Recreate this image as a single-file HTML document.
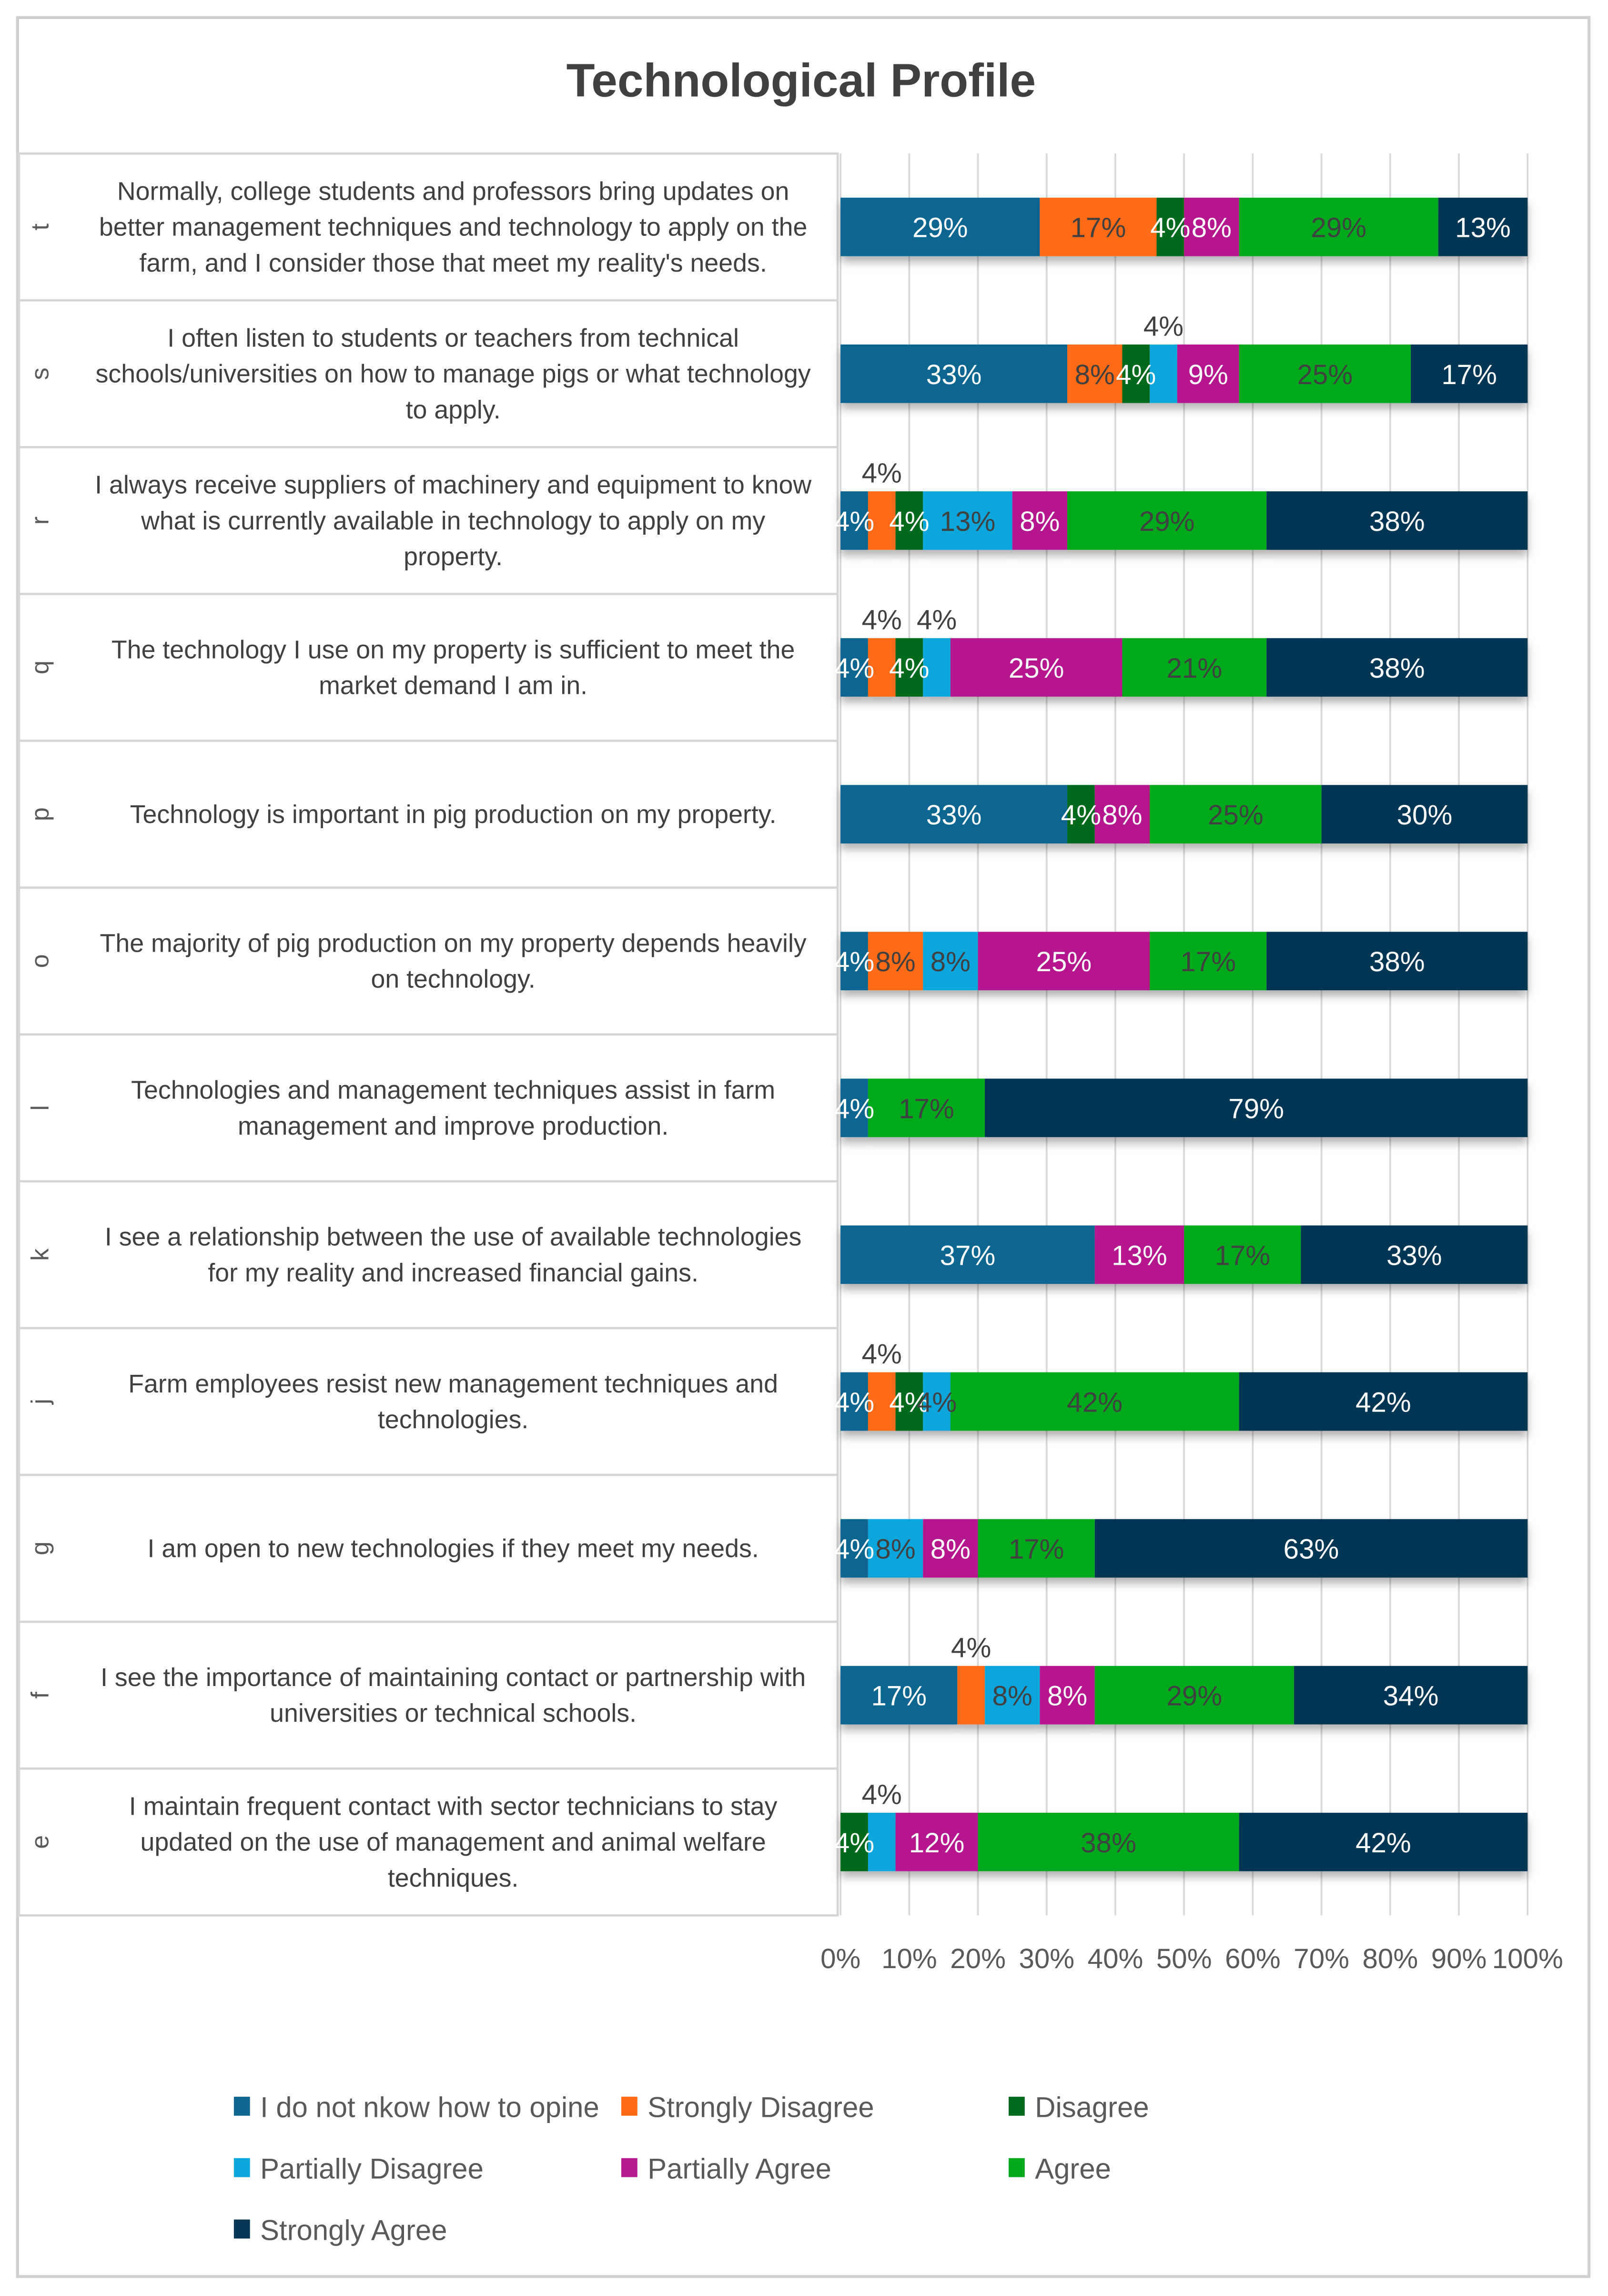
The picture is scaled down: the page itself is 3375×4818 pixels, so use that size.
<!DOCTYPE html>
<html><head><meta charset="utf-8"><style>
html,body{margin:0;padding:0;background:#fff}
svg{display:block}
text{font-family:"Liberation Sans",sans-serif}
</style></head><body>
<svg id="chart" width="3375" height="4818" viewBox="0 0 1100 1570.3" preserveAspectRatio="none" xmlns="http://www.w3.org/2000/svg">
<defs>
<filter id="sh" x="-5%" y="-20%" width="110%" height="160%"><feDropShadow dx="0" dy="4" stdDeviation="3" flood-color="#000" flood-opacity="0.3"/></filter>
</defs>
<rect x="12" y="12" width="1075" height="1545" fill="#fff" stroke="#d0d0d0" stroke-width="2"/>
<text x="548" y="66" text-anchor="middle" font-size="32" font-weight="bold" fill="#404040">Technological Profile</text>
<g id="grid"></g>
<g id="labels"></g>
<g id="bars"></g>
<g id="xaxis"></g>
<g id="legend"></g>
</svg>
<script>
const seriesNames=["I do not nkow how to opine","Strongly Disagree","Disagree","Partially Disagree","Partially Agree","Agree","Strongly Agree"];
const seriesColors=["#0f6690","#ff6a12","#026b1c","#0aa6dc","#b5198e","#03a91d","#063653"];
const seriesText=["#fff","#404040","#fff","#404040","#fff","#404040","#fff"];
const letters=["t","s","r","q","p","o","l","k","j","g","f","e"];
const questions=[
["Normally, college students and professors bring updates on","better management techniques and technology to apply on the","farm, and I consider those that meet my reality's needs."],
["I often listen to students or teachers from technical","schools/universities on how to manage pigs or what technology","to apply."],
["I always receive suppliers of machinery and equipment to know","what is currently available in technology to apply on my","property."],
["The technology I use on my property is sufficient to meet the","market demand I am in."],
["Technology is important in pig production on my property."],
["The majority of pig production on my property depends heavily","on technology."],
["Technologies and management techniques assist in farm","management and improve production."],
["I see a relationship between the use of available technologies","for my reality and increased financial gains."],
["Farm employees resist new management techniques and","technologies."],
["I am open to new technologies if they meet my needs."],
["I see the importance of maintaining contact or partnership with","universities or technical schools."],
["I maintain frequent contact with sector technicians to stay","updated on the use of management and animal welfare","techniques."]
];
const sNoOpinion=[29,33,4,4,33,4,4,37,4,4,17,0];
const sStrongDis=[17,8,4,4,0,8,0,0,4,0,4,0];
const sDisagree=[4,4,4,4,4,0,0,0,4,0,0,4];
const sPartDis=[0,4,13,4,0,8,0,0,4,8,8,4];
const sPartAgree=[8,9,8,25,8,25,0,13,0,8,8,12];
const sAgree=[29,25,29,21,25,17,17,17,42,17,29,38];
const sStrongAgree=[13,17,38,38,30,38,79,33,42,63,34,42];
const outsideLabels=[[1,3],[2,1],[3,1],[3,3],[8,1],[10,1],[11,3]];
const ticks=["0%","10%","20%","30%","40%","50%","60%","70%","80%","90%","100%"];
const series=[sNoOpinion,sStrongDis,sDisagree,sPartDis,sPartAgree,sAgree,sStrongAgree];

const NS="http://www.w3.org/2000/svg";
const X0=575,X1=1045,Y0=105,Y1=1310,BAR_H=40;
const rowH=(Y1-Y0)/letters.length;
const xs=v=>X0+(X1-X0)*v/100;
const yc=i=>Y0+rowH*(i+0.5);
function mk(tag,attrs,parent){const e=document.createElementNS(NS,tag);for(const k in attrs)e.setAttribute(k,attrs[k]);parent.appendChild(e);return e;}
const grid=document.getElementById('grid'),labels=document.getElementById('labels'),bars=document.getElementById('bars'),xaxis=document.getElementById('xaxis'),legend=document.getElementById('legend');

ticks.forEach((t,k)=>{
  const v=k*10;
  const l=mk('line',{x1:xs(v),x2:xs(v),y1:Y0,y2:Y1,stroke:'#d9d9d9','stroke-width':1.2},grid);
  
  
  const tx=mk('text',{x:xs(v),y:1346,'text-anchor':'middle','font-size':19,fill:'#595959'},xaxis);
  tx.textContent=t;
  
  
});

letters.forEach((L,i)=>{
  const top=Y0+rowH*i;
  const box=mk('rect',{x:13,y:top,width:560,height:rowH,fill:'#fff',stroke:'#d4d4d4','stroke-width':1.5},labels);
  
  
  const lt=mk('text',{x:0,y:0,'font-size':17,fill:'#595959','text-anchor':'middle',transform:`translate(33 ${yc(i)}) rotate(-90)`},labels);
  lt.textContent=L;
  
  
  const lines=questions[i];
  lines.forEach((q,j)=>{
    const y=yc(i)+6+(j-(lines.length-1)/2)*24.5;
    const qt=mk('text',{x:310,y:y,'font-size':17.5,fill:'#404040','text-anchor':'middle'},labels);
    qt.textContent=q;
    
    
  });
  let cum=0;
  const g=mk('g',{filter:'url(#sh)'},bars);
  
  
  series.forEach((s,k)=>{
    const v=s[i];
    if(v>0){
      const r=mk('rect',{x:xs(cum),y:yc(i)-BAR_H/2,width:xs(cum+v)-xs(cum),height:BAR_H,fill:seriesColors[k]},g);
      
      
    }
    cum+=v;
  });
  cum=0;
  series.forEach((s,k)=>{
    const v=s[i];
    if(v>0){
      const out=outsideLabels.some(p=>p[0]===i&&p[1]===k);
      const cx=(xs(cum)+xs(cum+v))/2;
      const t=mk('text',{x:cx,y:out?yc(i)-26:yc(i)+7,'text-anchor':'middle','font-size':19,fill:out?'#404040':seriesText[k]},bars);
      t.textContent=v+'%';
      
      
    }
    cum+=v;
  });
});

const legCols=[160,425,690],legRows=[1441,1483,1525];
seriesNames.forEach((n,k)=>{
  const x=legCols[k%3],y=legRows[Math.floor(k/3)];
  const sw=mk('rect',{x:x,y:y-7,width:11,height:13,fill:seriesColors[k]},legend);
  
  
  const t=mk('text',{x:x+18,y:y+7,'font-size':19.5,fill:'#595959'},legend);
  t.textContent=n;
  
  
});
</script>
</body></html>
